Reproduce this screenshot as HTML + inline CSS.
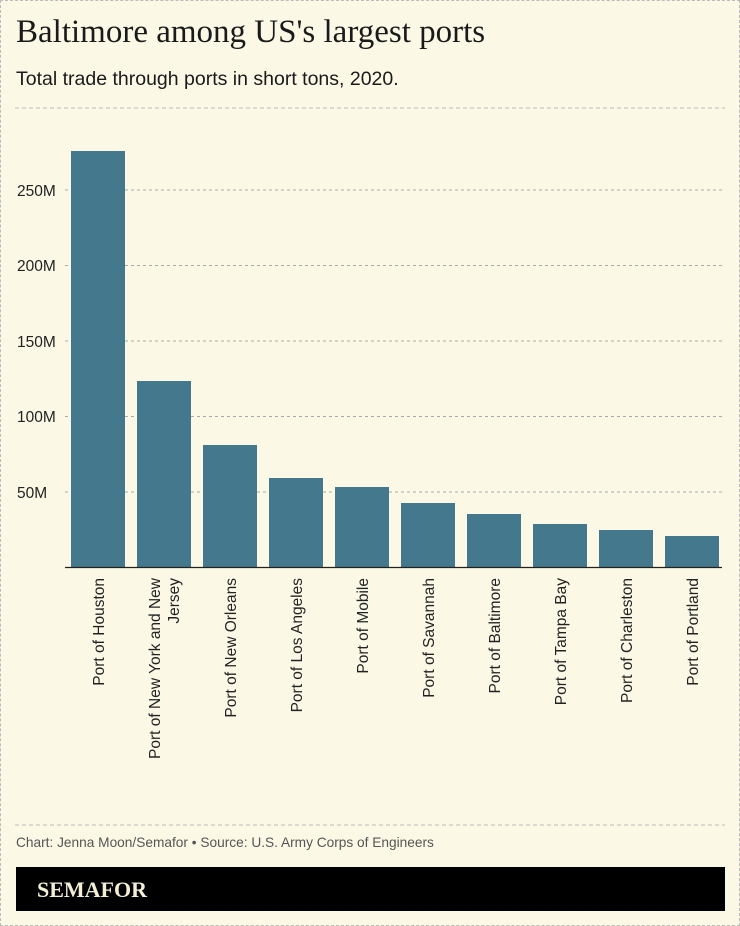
<!DOCTYPE html>
<html><head><style>
body{margin:0;background:#fbf9e6;}
.wrap{position:relative;width:738px;height:924px;border:1px dashed #bbb;background:#fbf9e6;font-family:"Liberation Sans",sans-serif;overflow:hidden}
.t{position:absolute;left:15px;top:13px;font-family:"Liberation Serif",serif;font-size:33px;color:#1a1a1a}
.s{position:absolute;left:15px;top:67px;font-size:19.5px;color:#1a1a1a}
.f{position:absolute;left:15px;top:834px;font-size:13.7px;color:#555}
.bk{position:absolute;left:15px;top:866px;width:709px;height:44px;background:#000}
.bk span{position:absolute;left:21px;top:10px;font-family:"Liberation Serif",serif;font-weight:bold;font-size:22px;color:#f3efd6}
</style></head><body><div class="wrap">
<div class="t">Baltimore among US's largest ports</div>
<div class="s">Total trade through ports in short tons, 2020.</div>
<svg width="740" height="926" style="position:absolute;left:-1px;top:-1px" font-family="Liberation Sans, sans-serif">
<g stroke="#bbb" stroke-dasharray="4,3"><line x1="15" y1="108" x2="725" y2="108"/><line x1="15" y1="825" x2="725" y2="825"/></g>
<g stroke="#aaa" stroke-dasharray="3,3">
<line x1="65" y1="190" x2="722" y2="190"/><line x1="65" y1="265.5" x2="722" y2="265.5"/><line x1="65" y1="341" x2="722" y2="341"/><line x1="65" y1="416.5" x2="722" y2="416.5"/><line x1="65" y1="492" x2="722" y2="492"/></g>
<g font-size="15.5" fill="#222"><text x="17" y="196">250M</text><text x="17" y="271">200M</text><text x="17" y="347">150M</text><text x="17" y="422">100M</text><text x="17" y="498">50M</text></g>
<g fill="#44788c">
<rect x="71" y="151" width="54" height="416"/><rect x="137" y="381" width="54" height="186"/><rect x="203" y="445" width="54" height="122"/><rect x="269" y="478" width="54" height="89"/><rect x="335" y="487" width="54" height="80"/><rect x="401" y="503" width="54" height="64"/><rect x="467" y="514" width="54" height="53"/><rect x="533" y="524" width="54" height="43"/><rect x="599" y="530" width="54" height="37"/><rect x="665" y="536" width="54" height="31"/></g>
<line x1="65" y1="567.5" x2="722" y2="567.5" stroke="#222" stroke-width="1.2"/>
<g font-size="15.5" fill="#222" text-anchor="end">
<text transform="translate(104,578) rotate(-90)">Port of Houston</text>
<text transform="translate(160,578) rotate(-90)">Port of New York and New</text>
<text transform="translate(179,578) rotate(-90)">Jersey</text>
<text transform="translate(236,578) rotate(-90)">Port of New Orleans</text>
<text transform="translate(302,578) rotate(-90)">Port of Los Angeles</text>
<text transform="translate(368,578) rotate(-90)">Port of Mobile</text>
<text transform="translate(434,578) rotate(-90)">Port of Savannah</text>
<text transform="translate(500,578) rotate(-90)">Port of Baltimore</text>
<text transform="translate(566,578) rotate(-90)">Port of Tampa Bay</text>
<text transform="translate(632,578) rotate(-90)">Port of Charleston</text>
<text transform="translate(698,578) rotate(-90)">Port of Portland</text>
</g></svg>
<div class="f">Chart: Jenna Moon/Semafor • Source: U.S. Army Corps of Engineers</div>
<div class="bk"><span>SEMAFOR</span></div>
</div></body></html>
